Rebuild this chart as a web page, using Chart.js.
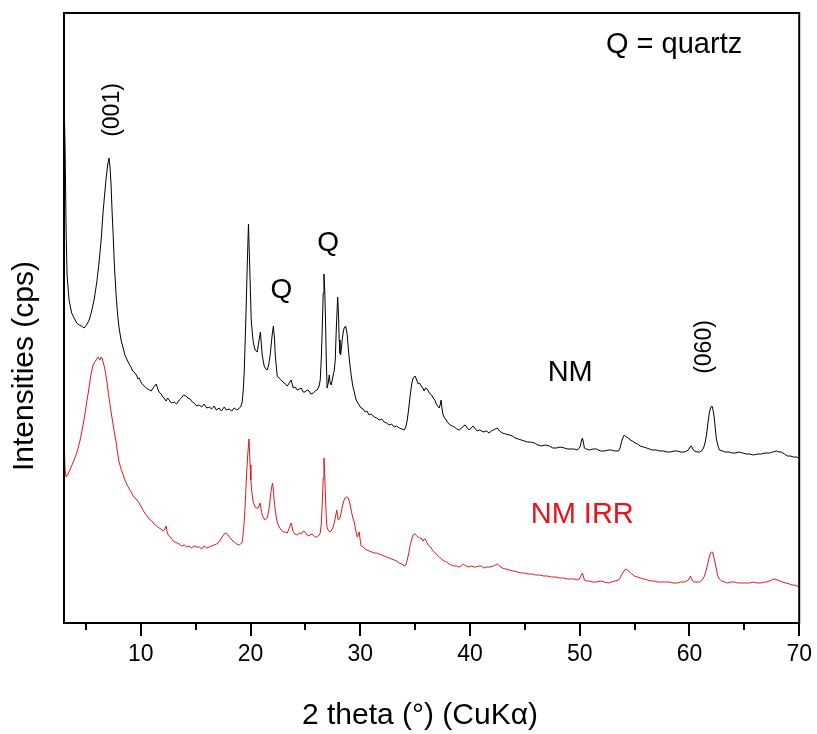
<!DOCTYPE html>
<html>
<head>
<meta charset="utf-8">
<script src="https://cdn.jsdelivr.net/npm/chart.js@4.4.1/dist/chart.umd.min.js"></script>
<style>
  html, body { margin: 0; padding: 0; background: #fff; }
</style>
</head>
<body>
<canvas id="xrd" width="817" height="734"></canvas>
<script>
// NM sample (black trace), 2theta in degrees and intensity
const nmTheta = [3.0,3.1,3.19,3.28,3.46,3.7,3.92,4.15,4.38,4.6,4.83,5.05,5.29,5.5,5.74,5.98,6.2,6.4,6.56,6.7,6.84,6.98,7.1,7.2,7.29,7.38,7.48,7.6,7.75,7.88,8.02,8.2,8.39,8.55,8.72,8.93,9.1,9.25,9.39,9.6,9.75,9.85,10.05,10.3,10.5,10.76,10.95,11.12,11.25,11.4,11.55,11.67,11.85,12.0,12.12,12.3,12.45,12.58,12.8,13.04,13.25,13.5,13.7,13.9,14.13,14.3,14.5,14.7,14.86,15.1,15.32,15.55,15.77,16.0,16.23,16.45,16.68,16.9,17.14,17.35,17.6,17.8,18.05,18.3,18.51,18.75,18.97,19.1,19.24,19.35,19.43,19.57,19.7,19.81,19.92,20.06,20.24,20.42,20.61,20.75,20.9,21.06,21.24,21.4,21.52,21.65,21.79,21.97,22.08,22.18,22.25,22.43,22.6,22.79,22.95,23.16,23.35,23.52,23.7,23.89,24.05,24.25,24.45,24.61,24.8,24.98,25.15,25.34,25.5,25.71,25.9,26.07,26.25,26.35,26.45,26.53,26.62,26.69,26.77,26.85,26.92,26.98,27.08,27.17,27.26,27.35,27.45,27.53,27.62,27.72,27.81,27.94,28.01,28.08,28.15,28.21,28.28,28.35,28.45,28.53,28.67,28.81,28.9,28.99,29.08,29.17,29.3,29.45,29.6,29.72,29.9,30.08,30.25,30.45,30.6,30.81,31.0,31.27,31.5,31.72,31.95,32.18,32.4,32.64,32.85,33.09,33.3,33.55,33.8,34.0,34.15,34.28,34.4,34.55,34.7,34.82,35.0,35.14,35.28,35.4,35.55,35.7,35.82,35.95,36.1,36.25,36.37,36.5,36.64,36.8,36.92,37.05,37.19,37.3,37.37,37.45,37.55,37.7,37.83,38.0,38.19,38.4,38.56,38.8,39.02,39.25,39.4,39.56,39.75,39.93,40.1,40.29,40.5,40.66,40.9,41.21,41.5,41.75,41.95,42.12,42.3,42.48,42.7,42.94,43.25,43.58,43.85,44.12,44.4,44.67,44.95,45.22,45.5,45.86,46.2,46.5,46.85,47.23,47.55,47.87,48.2,48.6,48.9,49.24,49.5,49.78,49.95,50.06,50.15,50.24,50.33,50.42,50.6,50.88,51.2,51.52,51.9,52.25,52.6,52.89,53.2,53.53,53.68,53.8,53.95,54.07,54.25,54.44,54.6,54.8,55.05,55.26,55.5,55.81,56.1,56.35,56.65,56.99,57.3,57.63,57.95,58.26,58.6,58.9,59.2,59.54,59.75,59.9,60.05,60.18,60.3,60.45,60.7,60.91,61.1,61.28,61.42,61.55,61.68,61.82,61.95,62.05,62.15,62.26,62.35,62.44,62.58,62.72,63.0,63.26,63.6,63.9,64.2,64.54,64.85,65.18,65.5,65.82,66.2,66.55,66.9,67.28,67.6,67.92,68.15,68.37,68.65,68.92,69.2,69.46,69.75,70.0];
const nmCounts = [531,473,393,348,323,310,305,300,298,297,295,298,303,311,323,340,361,385,411,428,445,458,465,455,438,412,388,356,328,309,295,283,275,268,264,259,256,252,251,248,244,245,240,237,235,233,232,235,237,239,234,231,229,226,225,222,225,223,220,221,219,223,225,228,227,225,224,221,220,217,218,216,219,215,216,214,217,213,215,212,216,213,214,212,215,213,215,216,221,235,253,303,358,399,358,303,281,273,271,281,291,268,257,254,253,258,268,288,297,285,268,247,245,243,241,239,237,240,243,235,236,233,234,235,231,231,233,232,229,230,232,233,237,243,265,293,330,349,330,293,255,235,240,248,240,238,243,248,252,263,293,326,310,283,270,268,275,283,291,295,297,288,276,265,256,248,238,231,224,221,218,215,214,211,212,208,209,206,205,203,204,201,200,198,199,196,197,195,194,193,196,203,213,228,240,245,247,243,239,240,237,235,232,235,234,231,229,228,225,223,219,217,215,219,223,214,208,205,203,200,198,197,196,194,193,195,197,198,195,193,195,197,194,192,193,191,192,190,192,193,194,195,192,190,189,188,187,185,184,183,182,181,181,180,178,177,178,177,175,175,176,175,174,174,174,173,175,177,182,185,181,175,174,173,174,174,172,172,173,173,172,172,175,181,186,188,186,185,183,182,180,179,177,176,175,174,173,173,172,172,171,171,172,172,171,171,172,173,176,177,174,172,171,171,172,175,180,188,200,211,216,217,213,205,195,185,178,173,172,171,171,170,170,171,170,169,169,168,169,169,170,170,171,172,171,171,169,167,167,166,166,165];

// NM IRR sample (red trace)
const irrTheta = [3.0,3.1,3.19,3.37,3.65,3.92,4.19,4.47,4.74,4.92,5.1,5.25,5.38,5.5,5.65,5.8,5.93,6.03,6.11,6.2,6.29,6.38,6.47,6.56,6.66,6.8,6.93,7.05,7.2,7.35,7.48,7.6,7.75,7.88,8.02,8.2,8.39,8.55,8.75,8.95,9.12,9.3,9.48,9.65,9.85,10.05,10.3,10.5,10.76,11.0,11.21,11.45,11.67,11.85,12.03,12.2,12.31,12.4,12.49,12.6,12.76,12.95,13.13,13.3,13.49,13.7,13.95,14.2,14.4,14.6,14.86,15.1,15.32,15.55,15.77,16.0,16.23,16.45,16.68,16.9,17.05,17.25,17.41,17.6,17.78,17.95,18.14,18.3,18.51,18.75,18.97,19.1,19.24,19.35,19.43,19.52,19.61,19.74,19.86,19.96,20.03,20.1,20.24,20.38,20.51,20.7,20.8,20.88,20.97,21.06,21.2,21.33,21.52,21.7,21.88,22.0,22.08,22.15,22.25,22.34,22.45,22.61,22.8,22.98,23.15,23.35,23.53,23.71,23.8,23.89,24.05,24.25,24.45,24.61,24.8,24.98,25.15,25.34,25.5,25.71,25.9,26.07,26.25,26.35,26.45,26.53,26.62,26.69,26.77,26.85,26.92,26.98,27.12,27.26,27.4,27.53,27.62,27.72,27.8,27.85,27.92,27.99,28.08,28.17,28.27,28.35,28.45,28.53,28.62,28.72,28.81,28.9,28.99,29.08,29.17,29.26,29.35,29.45,29.58,29.72,29.82,29.9,29.98,30.08,30.25,30.45,30.6,30.81,31.05,31.27,31.5,31.72,31.95,32.18,32.4,32.64,32.85,33.09,33.3,33.55,33.8,34.0,34.15,34.28,34.42,34.55,34.7,34.82,34.92,35.0,35.14,35.28,35.42,35.55,35.65,35.73,35.82,35.92,36.05,36.19,36.32,36.46,36.65,36.83,37.0,37.19,37.4,37.65,37.85,38.1,38.3,38.56,38.8,39.02,39.2,39.38,39.5,39.65,39.9,40.11,40.35,40.57,40.8,41.02,41.25,41.48,41.8,42.12,42.3,42.48,42.7,42.94,43.25,43.58,43.95,44.31,44.65,44.95,45.3,45.68,46.0,46.32,46.7,47.05,47.4,47.78,48.15,48.51,48.9,49.24,49.5,49.78,49.95,50.06,50.15,50.24,50.33,50.42,50.6,50.88,51.2,51.52,51.9,52.25,52.6,52.89,53.2,53.53,53.68,53.8,53.98,54.16,54.35,54.53,54.75,54.98,55.25,55.53,55.85,56.17,56.5,56.81,57.1,57.45,57.8,58.17,58.5,58.9,59.2,59.54,59.75,59.9,60.0,60.09,60.2,60.36,60.6,60.91,61.15,61.37,61.5,61.64,61.78,61.91,62.0,62.1,62.2,62.32,62.45,62.55,62.72,62.91,63.2,63.46,63.8,64.09,64.4,64.73,65.1,65.46,65.8,66.19,66.5,66.83,67.05,67.28,67.5,67.74,68.01,68.25,68.47,68.8,69.1,69.35,69.56,69.8,70.0];
const irrCounts = [186,153,146,149,156,163,171,183,198,210,223,233,243,251,258,261,263,265,266,264,263,266,265,261,257,249,240,229,218,207,198,190,181,170,161,154,148,143,138,134,131,127,125,123,120,116,111,108,104,102,99,97,95,94,92,94,97,91,88,87,85,82,81,80,79,77,78,76,77,75,77,76,76,74,77,75,76,77,78,79,80,83,86,89,90,88,85,83,81,79,78,79,81,92,103,120,143,168,184,158,143,133,121,117,115,115,118,120,113,108,105,103,105,115,133,140,133,123,113,106,100,96,93,91,91,90,95,100,95,91,89,88,90,89,92,91,88,87,89,88,86,86,88,90,100,118,145,165,145,118,102,95,92,91,93,96,100,105,110,113,108,103,104,106,111,116,120,123,125,126,126,125,122,118,113,108,104,101,93,86,88,91,84,77,76,74,73,72,71,70,70,69,68,67,66,65,64,63,62,60,59,57,58,63,70,78,84,88,89,89,87,86,85,85,83,82,84,84,81,78,77,75,72,70,68,66,64,62,61,59,58,57,57,56,57,59,58,57,56,57,56,56,57,57,55,56,56,57,58,59,57,55,54,53,52,51,50,50,49,49,48,48,47,47,46,46,45,45,44,44,44,43,44,46,48,50,47,43,42,42,41,41,42,41,40,41,42,43,45,48,51,54,53,51,49,47,46,45,44,43,42,42,41,41,41,41,40,40,41,41,42,43,45,47,44,41,41,41,43,47,52,58,65,70,71,71,67,61,54,48,44,42,41,40,41,41,40,40,40,40,41,40,40,41,41,42,43,44,43,42,41,40,39,38,38,37,36];

// x axis ticks: labelled every 10, short marks in between
const majorTicks = [10, 20, 30, 40, 50, 60, 70];
const minorTicks = [5, 15, 25, 35, 45, 55, 65];

const FONT = "'Liberation Sans', Arial, sans-serif";

const toPoints = (xs, ys) => xs.map((x, i) => ({ x: x, y: ys[i] }));

// text placed on the plot, in data units
const notes = [
  { text: "Q = quartz", x: 58.6, y: 578, size: 29 },
  { text: "(001)", x: 7.47, y: 513, size: 23, rotate: true },
  { text: "Q", x: 22.8, y: 333, size: 28 },
  { text: "Q", x: 27.08, y: 380, size: 28 },
  { text: "NM", x: 49.13, y: 250, size: 29 },
  { text: "(060)", x: 61.4, y: 276, size: 23, rotate: true },
  { text: "NM IRR", x: 50.23, y: 108, size: 29, color: "#e8141c" }
];

// axis titles sit a little off-centre in the original, so they are drawn here
const xTitle = "2 theta (°) (CuKα)";
const yTitle = "Intensities (cps)";

const frameAndNotes = {
  id: "frameAndNotes",
  afterDraw(chart) {
    const { ctx, chartArea: a, scales } = chart;
    ctx.save();
    ctx.strokeStyle = "#000";
    ctx.lineWidth = 2;
    ctx.strokeRect(a.left, a.top, a.right - a.left, a.bottom - a.top);

    ctx.beginPath();
    majorTicks.forEach(v => {
      const px = Math.round(scales.x.getPixelForValue(v));
      ctx.moveTo(px, a.bottom);
      ctx.lineTo(px, a.bottom + 13);
    });
    minorTicks.forEach(v => {
      const px = Math.round(scales.x.getPixelForValue(v));
      ctx.moveTo(px, a.bottom);
      ctx.lineTo(px, a.bottom + 7);
    });
    ctx.stroke();

    ctx.fillStyle = "#000";
    ctx.textAlign = "center";
    ctx.textBaseline = "middle";
    ctx.font = "30px " + FONT;
    ctx.fillText(xTitle, a.left + 356, a.bottom + 93);
    ctx.save();
    ctx.translate(a.left - 39, a.top + 353);
    ctx.rotate(-Math.PI / 2);
    ctx.fillText(yTitle, 0, 0);
    ctx.restore();

    notes.forEach(n => {
      const px = scales.x.getPixelForValue(n.x);
      const py = scales.y.getPixelForValue(n.y);
      ctx.save();
      ctx.translate(px, py);
      if (n.rotate) ctx.rotate(-Math.PI / 2);
      ctx.fillStyle = n.color || "#000";
      ctx.font = n.size + "px " + FONT;
      ctx.fillText(n.text, 0, 0);
      ctx.restore();
    });
    ctx.restore();
  }
};

new Chart(document.getElementById("xrd"), {
  type: "line",
  data: {
    datasets: [
      {
        label: "NM",
        data: toPoints(nmTheta, nmCounts),
        borderColor: "#000",
        borderWidth: 1,
        pointRadius: 0,
        tension: 0
      },
      {
        label: "NM IRR",
        data: toPoints(irrTheta, irrCounts),
        borderColor: "rgb(226,24,30)",
        borderWidth: 1,
        pointRadius: 0,
        tension: 0
      }
    ]
  },
  options: {
    responsive: false,
    animation: false,
    layout: { padding: { left: 0, right: 17, top: 13, bottom: 0 } },
    plugins: {
      legend: { display: false },
      tooltip: { enabled: false }
    },
    scales: {
      x: {
        type: "linear",
        min: 3,
        max: 70,
        afterBuildTicks: s => { s.ticks = majorTicks.map(v => ({ value: v })); },
        afterFit: s => { s.height = 111; },
        ticks: {
          autoSkip: false,
          maxRotation: 0,
          padding: 5,
          color: "#000",
          font: { family: FONT, size: 23 }
        },
        grid: { display: true, drawOnChartArea: false, color: "rgba(0,0,0,0)", tickLength: 13 },
        border: { display: false },
        title: { display: false }
      },
      y: {
        min: 0,
        max: 610,
        afterFit: s => { s.width = 64; },
        ticks: { display: false },
        grid: { display: false },
        border: { display: false },
        title: { display: false }
      }
    }
  },
  plugins: [frameAndNotes]
});
</script>
</body>
</html>
